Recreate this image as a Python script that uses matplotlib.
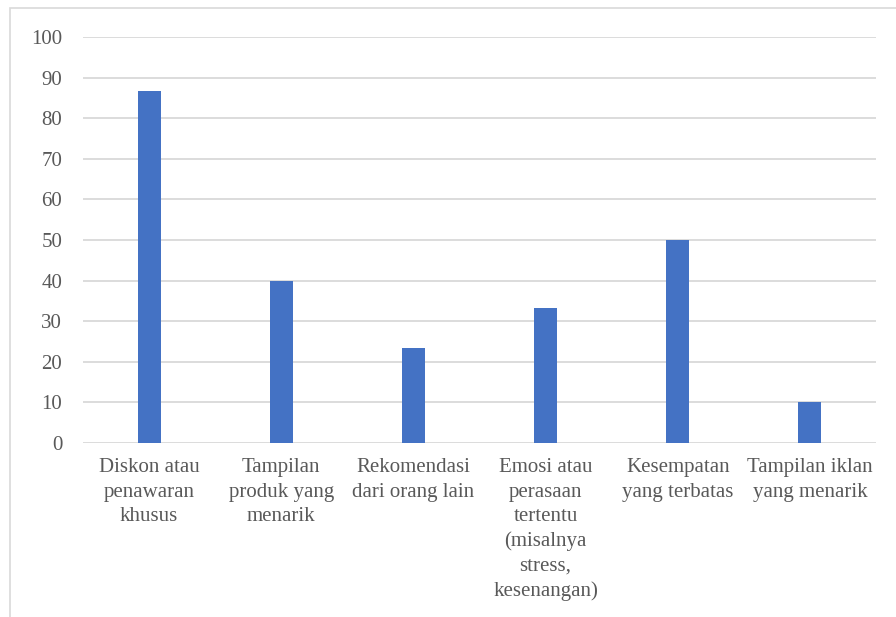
import matplotlib.pyplot as plt
from matplotlib.patches import Rectangle

categories = [
    "Diskon atau\npenawaran\nkhusus",
    "Tampilan\nproduk yang\nmenarik",
    "Rekomendasi\ndari orang lain",
    "Emosi atau\nperasaan\ntertentu\n(misalnya\nstress,\nkesenangan)",
    "Kesempatan\nyang terbatas",
    "Tampilan iklan\nyang menarik",
]
values = [86.67, 40.0, 23.33, 33.33, 50.0, 10.0]
y_ticks = [0, 10, 20, 30, 40, 50, 60, 70, 80, 90, 100]

BAR_COLOR = "#4472C4"
GRID_COLOR = "#D9D9D9"
TEXT_COLOR = "#595959"

plt.rcParams["font.family"] = "serif"
plt.rcParams["font.serif"] = ["Liberation Serif", "Times New Roman", "DejaVu Serif"]

W, H = 896, 617
fig = plt.figure(figsize=(W / 100, H / 100), dpi=100)

# chart border (only top and left edges are visible)
fig.patches.append(Rectangle((9.5 / W, -0.1), 1.2, (H - 7.5) / H + 0.1,
                             transform=fig.transFigure, fill=False,
                             edgecolor=GRID_COLOR, linewidth=1.2))

left, right = 83, 876
top, bottom = 37, 443
ax = fig.add_axes([left / W, 1 - bottom / H, (right - left) / W, (bottom - top) / H])

x = range(len(categories))
ax.bar(x, values, width=0.175, color=BAR_COLOR, zorder=3)

ax.set_xlim(-0.5, len(categories) - 0.5)
ax.set_ylim(0, 100)
ax.set_yticks(y_ticks)
ax.yaxis.grid(True, color=GRID_COLOR, linewidth=1.3, zorder=0)
ax.set_axisbelow(True)
for s in ax.spines.values():
    s.set_visible(False)

ax.tick_params(axis="y", length=0, pad=15, labelsize=15, labelcolor=TEXT_COLOR)
ax.tick_params(axis="x", length=0, pad=11, labelsize=15, labelcolor=TEXT_COLOR)
ax.set_xticks(list(x))
ax.set_xticklabels(categories, linespacing=1.38, va="top", ha="center")

fig.savefig("out.png", dpi=100)
